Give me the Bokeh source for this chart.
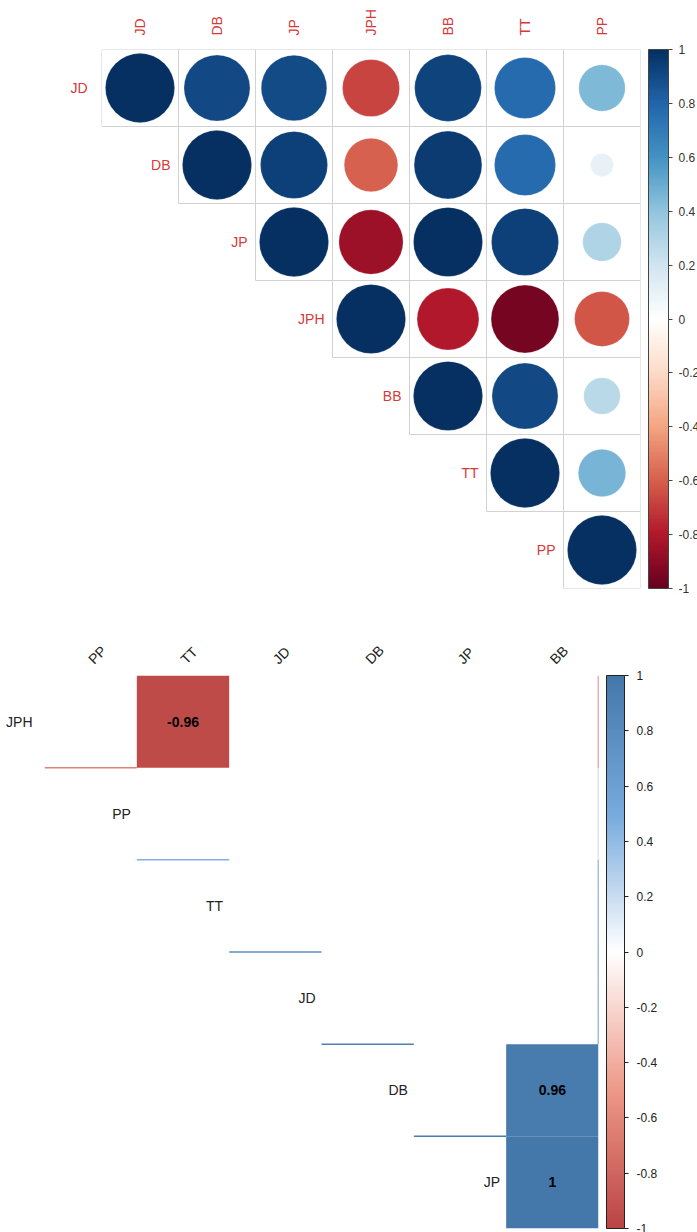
import math
from bokeh.plotting import figure
from bokeh.models import (ColumnDataSource, LinearColorMapper, ColorBar, FixedTicker,
                          FactorRange, LabelSet, CustomJSTickFormatter)
from bokeh.transform import dodge
from bokeh.layouts import column, row
from bokeh.embed import file_html
from bokeh.resources import INLINE
from bokeh.core.properties import value

# ---------------- data ----------------
variables = ["JD", "DB", "JP", "JPH", "BB", "TT", "PP"]
corr_JD = [1.00, 0.91, 0.90, -0.68, 0.93, 0.78, 0.45]
corr_DB = [0.91, 1.00, 0.94, -0.60, 0.96, 0.78, 0.11]
corr_JP = [0.90, 0.94, 1.00, -0.86, 0.997, 0.94, 0.31]
corr_JPH = [-0.68, -0.60, -0.86, 1.00, -0.80, -0.96, -0.63]
corr_BB = [0.93, 0.96, 0.997, -0.80, 1.00, 0.91, 0.28]
corr_TT = [0.78, 0.78, 0.94, -0.96, 0.91, 1.00, 0.47]
corr_PP = [0.45, 0.11, 0.31, -0.63, 0.28, 0.47, 1.00]
colorbar_ticks = [-1, -0.8, -0.6, -0.4, -0.2, 0, 0.2, 0.4, 0.6, 0.8, 1]

bottom_rows = ["JPH", "PP", "TT", "JD", "DB", "JP"]
bottom_cols = ["PP", "TT", "JD", "DB", "JP", "BB"]
tile_rows = ["JPH", "DB", "JP"]
tile_cols = ["TT", "BB", "BB"]
hline_rows = ["JPH", "PP", "TT", "JD", "DB"]
hline_cols = ["PP", "TT", "JD", "DB", "JP"]
vline_rows = ["JPH", "PP", "TT", "JD"]
vline_cols = ["BB", "BB", "BB", "BB"]

matrix = dict(zip(variables, [corr_JD, corr_DB, corr_JP, corr_JPH, corr_BB, corr_TT, corr_PP]))


def corr(a, b):
    return matrix[a][variables.index(b)]


# ---------------- palettes ----------------
def ramp(stops, n):
    rgb = [tuple(int(s[i:i + 2], 16) for i in (1, 3, 5)) for s in stops]
    out = []
    for k in range(n):
        t = k / (n - 1) * (len(rgb) - 1)
        i = min(int(t), len(rgb) - 2)
        f = t - i
        c = [round(rgb[i][j] + (rgb[i + 1][j] - rgb[i][j]) * f) for j in range(3)]
        out.append("#%02x%02x%02x" % tuple(c))
    return out


pal_top = ramp(["#67001F", "#B2182B", "#D6604D", "#F4A582", "#FDDBC7", "#FFFFFF",
                "#D1E5F0", "#92C5DE", "#4393C3", "#2166AC", "#053061"], 200)
pal_bot = ramp(["#BB4444", "#EE9988", "#FFFFFF", "#77AADD", "#4477AA"], 200)


def pick(v, pal):
    return pal[int(round((v + 1) / 2 * (len(pal) - 1)))]


def fmt(v):
    s = "%.2f" % v
    s = s.rstrip("0").rstrip(".")
    return s


tick_labels = {t: ("%g" % t) for t in colorbar_ticks}
FONT = "Liberation Sans"
RED = "#d43a3a"


def style_axis(a, color, orientation, standoff):
    a.axis_line_color = None
    a.major_tick_line_color = None
    a.minor_tick_line_color = None
    a.major_label_orientation = orientation
    a.major_label_standoff = standoff
    a.major_label_text_color = color
    a.major_label_text_font = FONT
    a.major_label_text_font_size = "14px"


def only_first(name):
    return CustomJSTickFormatter(args=dict(keep=name),
                                 code="return tick === keep ? tick : '';")


# ---------------- top chart ----------------
p1 = figure(x_range=FactorRange(*variables), y_range=FactorRange(*reversed(variables)),
            frame_width=539, frame_height=539, x_axis_location="above",
            min_border_left=101, min_border_right=0, min_border_top=49, min_border_bottom=22,
            output_backend="svg", toolbar_location=None, outline_line_color=None)
p1.xgrid.visible = False
p1.ygrid.visible = False
style_axis(p1.xaxis[0], RED, "vertical", 8)
style_axis(p1.yaxis[0], RED, "horizontal", 8)
# first row label sits left of the grid: keep only it on the y axis
p1.yaxis[0].formatter = only_first(variables[0])

cx, cy, cv, cc, cr = [], [], [], [], []
for i, a in enumerate(variables):
    for j, b in enumerate(variables):
        if j >= i:
            v = corr(a, b)
            cx.append(b); cy.append(a); cv.append(v)
            cc.append(pick(v, pal_top)); cr.append(0.45 * math.sqrt(abs(v)))
src1 = ColumnDataSource(dict(x=cx, y=cy, v=cv, color=cc, rad=cr))
p1.rect(x="x", y="y", width=1, height=1, source=src1, fill_color=None,
        line_color="#d2d2d2", line_width=1)
p1.circle(x="x", y="y", radius="rad", source=src1, fill_color="color",
          line_color="white", line_width=0.6, line_alpha=0.4)

lab1 = ColumnDataSource(dict(x=variables[1:], y=variables[1:], t=variables[1:]))
p1.add_layout(LabelSet(x=dodge("x", -0.5, range=p1.x_range), y="y", text="t", source=lab1,
                       x_offset=-8, text_align="right", text_baseline="middle",
                       text_color=RED, text_font=value(FONT), text_font_size="14px"))

cb1 = ColorBar(color_mapper=LinearColorMapper(palette=pal_top, low=-1, high=1),
               ticker=FixedTicker(ticks=colorbar_ticks), major_label_overrides=tick_labels,
               width=20, height=539, margin=0, padding=0, location=(8, 0),
               major_tick_in=0, major_tick_out=4, major_tick_line_color="#444",
               bar_line_color="#444", label_standoff=6,
               major_label_text_font_size="12px", major_label_text_color="#333",
               major_label_text_font=FONT,
               background_fill_color=None, border_line_color=None)
p1.add_layout(cb1, "right")

# ---------------- bottom chart ----------------
p2 = figure(x_range=FactorRange(*bottom_cols), y_range=FactorRange(*reversed(bottom_rows)),
            frame_width=554, frame_height=553, x_axis_location="above",
            min_border_left=44, min_border_right=0, min_border_top=65, min_border_bottom=4,
            output_backend="svg", toolbar_location=None, outline_line_color=None)
p2.xgrid.visible = False
p2.ygrid.visible = False
style_axis(p2.xaxis[0], "#222", math.pi / 4, 8)
style_axis(p2.yaxis[0], "#222", "horizontal", 6)
p2.yaxis[0].formatter = only_first(bottom_rows[0])

tv = [corr(r, c) for r, c in zip(tile_rows, tile_cols)]
tsrc = ColumnDataSource(dict(x=tile_cols, y=tile_rows, color=[pick(v, pal_bot) for v in tv],
                             t=[fmt(v) for v in tv]))
p2.rect(x="x", y="y", width=1, height=1, source=tsrc, fill_color="color", line_color=None)
p2.text(x="x", y="y", text="t", source=tsrc, text_align="center", text_baseline="middle",
        text_color="black", text_font=value(FONT), text_font_size="14px",
        text_font_style="bold")

hv = [corr(r, c) for r, c in zip(hline_rows, hline_cols)]
hsrc = ColumnDataSource(dict(x=hline_cols, y=hline_rows, color=[pick(v, pal_bot) for v in hv]))
p2.segment(x0=dodge("x", -0.5, range=p2.x_range), x1=dodge("x", 0.5, range=p2.x_range),
           y0=dodge("y", -0.5, range=p2.y_range), y1=dodge("y", -0.5, range=p2.y_range),
           source=hsrc, line_color="color", line_width=1.5)

vv = [corr(r, c) for r, c in zip(vline_rows, vline_cols)]
vsrc = ColumnDataSource(dict(x=vline_cols, y=vline_rows, color=[pick(v, pal_bot) for v in vv]))
p2.segment(x0=dodge("x", 0.5, range=p2.x_range), x1=dodge("x", 0.5, range=p2.x_range),
           y0=dodge("y", -0.5, range=p2.y_range), y1=dodge("y", 0.5, range=p2.y_range),
           source=vsrc, line_color="color", line_width=1.5)

lab2 = ColumnDataSource(dict(x=bottom_cols[1:], y=bottom_rows[1:], t=bottom_rows[1:]))
p2.add_layout(LabelSet(x=dodge("x", -0.5, range=p2.x_range), y="y", text="t", source=lab2,
                       x_offset=-6, text_align="right", text_baseline="middle",
                       text_color="#222", text_font=value(FONT), text_font_size="14px"))

cb2 = ColorBar(color_mapper=LinearColorMapper(palette=pal_bot, low=-1, high=1),
               ticker=FixedTicker(ticks=colorbar_ticks), major_label_overrides=tick_labels,
               width=18, height=553, margin=0, padding=0, location=(8, 0),
               major_tick_in=0, major_tick_out=4, major_tick_line_color="#222",
               bar_line_color="#222", label_standoff=8,
               major_label_text_font_size="12px", major_label_text_color="#222",
               major_label_text_font=FONT,
               background_fill_color=None, border_line_color=None)
p2.add_layout(cb2, "right")

layout = column(row(p1), row(p2), spacing=0)
open("out.html", "w").write(file_html(layout, INLINE))
